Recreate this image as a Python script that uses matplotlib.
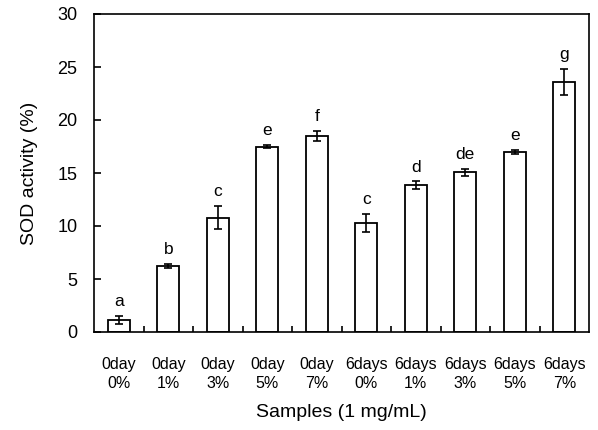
import matplotlib.pyplot as plt
import numpy as np

plt.rc('font', family=['Liberation Sans', 'DejaVu Sans'])

# data
samples = ['0day\n0%', '0day\n1%', '0day\n3%', '0day\n5%', '0day\n7%',
           '6days\n0%', '6days\n1%', '6days\n3%', '6days\n5%', '6days\n7%']
sod_activity = [1.15, 6.25, 10.8, 17.5, 18.5, 10.3, 13.85, 15.05, 16.95, 23.6]
sod_error = [0.4, 0.2, 1.1, 0.12, 0.45, 0.85, 0.35, 0.3, 0.2, 1.2]
letters = ['a', 'b', 'c', 'e', 'f', 'c', 'd', 'de', 'e', 'g']

fig = plt.figure(figsize=(5.98, 4.30), dpi=100)
ax = fig.add_axes([94 / 598, 1 - 332 / 430, 495 / 598, 318 / 430])

x = np.arange(len(samples))
ax.bar(x, sod_activity, width=0.44, color='white', edgecolor='black',
       linewidth=1.3, zorder=2)
ax.errorbar(x, sod_activity, yerr=sod_error, fmt='none', ecolor='black',
            elinewidth=1.2, capsize=3, capthick=1.2, zorder=3)

for xi, v, e, lab in zip(x, sod_activity, sod_error, letters):
    ax.annotate(lab, (xi, v + e), xytext=(0, 5), textcoords='offset points',
                ha='center', va='bottom', fontsize=12.5)

ax.set_xlim(-0.5, len(samples) - 0.5)
ax.set_ylim(0, 30)
ax.set_yticks(np.arange(0, 31, 5))
ax.set_xticks(x)
ax.set_xticklabels(samples, fontsize=11.5, linespacing=1.3)
ax.set_xticks(np.arange(0.5, len(samples) - 1, 1), minor=True)
ax.tick_params(axis='x', which='major', length=0, pad=18)
ax.tick_params(axis='x', which='minor', direction='in', length=4, width=1.2)
ax.tick_params(axis='y', direction='in', length=5, width=1.2,
               labelsize=13, pad=12)

for s in ax.spines.values():
    s.set_linewidth(1.2)

ax.set_ylabel('SOD activity (%)', fontsize=14, labelpad=14)
ax.set_xlabel('Samples (1 mg/mL)', fontsize=14, labelpad=10)

fig.savefig('out.png', dpi=100)
